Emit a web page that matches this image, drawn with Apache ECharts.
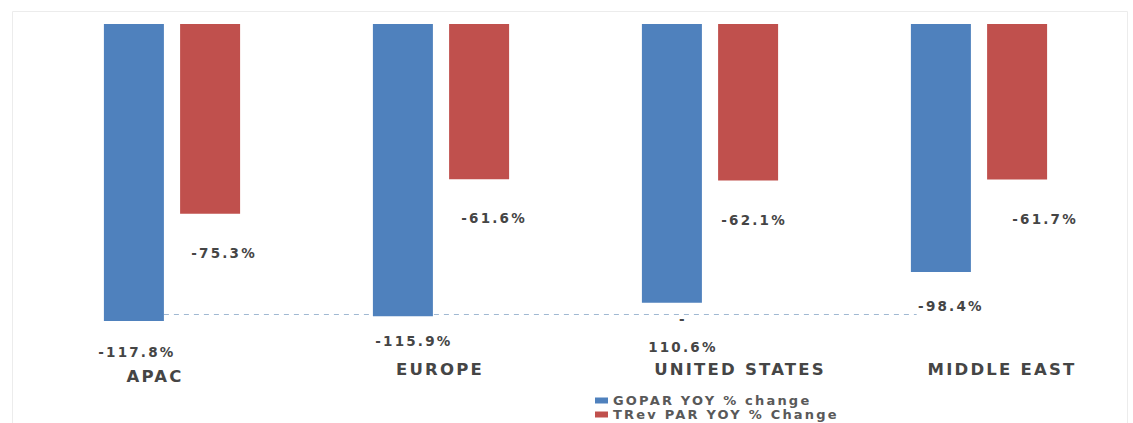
<!DOCTYPE html>
<html>
<head>
<meta charset="utf-8">
<script src="https://cdn.jsdelivr.net/npm/echarts@6/dist/echarts.min.js"></script>
<style>
  html, body { margin: 0; padding: 0; background: #fff; }
  #chart { width: 1133px; height: 423px; }
  /* wide lettering for every label */
  #chart svg text { letter-spacing: 2.2px; }
</style>
</head>
<body>
<div id="chart"></div>
<script>
// Regions and year-over-year changes (%)
const regions = ['APAC', 'EUROPE', 'UNITED STATES', 'MIDDLE EAST'];
const goparChange = [-117.8, -115.9, -110.6, -98.4];
const trevparChange = [-75.3, -61.6, -62.1, -61.7];
const seriesNames = ['GOPAR YOY % change', 'TRev PAR YOY % Change'];
const yTicks = { min: -120, max: 0 };

// nudges of each region label ([dx, dy], px) and of each value label
const regionShift = [[-17, 7], [-1, 0], [30, 0], [23, -1]];
const goparLabelShift = [3, 11, 11, 10];
const goparLabelGap = [17, 11, 2, 20];
const trevLabelShift = [7, 8, -1, 21];

const textColor = '#454545';
const font = "'DejaVu Sans', 'Liberation Sans', sans-serif";

const rich = {};
regionShift.forEach(([dx, dy], i) => {
  rich['r' + i] = {
    align: 'center', fontSize: 16.5, fontWeight: 'bold', color: textColor, fontFamily: font,
    padding: [Math.max(dy, 0), dx < 0 ? -2 * dx : 0, Math.max(-dy, 0), dx > 0 ? 2 * dx : 0]
  };
});

function pct(v) { return v.toFixed(1) + '%'; }

// GOPAR value labels: the US one breaks after its minus sign,
// the Middle East one sits on a white box over the guide line
const goparData = goparChange.map((v, i) => {
  const label = { offset: [goparLabelShift[i], 0], distance: goparLabelGap[i] };
  if (i === 2) label.formatter = '-\n' + pct(Math.abs(v));
  if (i === 3) Object.assign(label, { backgroundColor: '#fff', padding: [0, 8] });
  return { value: v, label: label };
});
const trevData = trevparChange.map((v, i) => ({ value: v, label: { offset: [trevLabelShift[i], 0] } }));

const chart = echarts.init(document.getElementById('chart'), null, { renderer: 'svg' });
chart.setOption({
  animation: false,
  backgroundColor: '#fff',
  graphic: [{
    type: 'rect', left: 10, top: 9,
    shape: { width: 1115, height: 412 },
    style: { fill: 'none', stroke: '#ececec', lineWidth: 1 },
    silent: true
  }],
  grid: { left: 37.5, right: 19.5, top: 24, bottom: 96.5 },
  legend: {
    orient: 'vertical', left: 590, top: 389, height: 60, itemGap: 1,
    itemWidth: 13, itemHeight: 6, icon: 'rect',
    textStyle: { fontSize: 13, color: '#595959', fontFamily: font, fontWeight: 'bold' },
    data: seriesNames
  },
  xAxis: {
    type: 'category', data: regions,
    axisLine: { show: false }, axisTick: { show: false },
    axisLabel: {
      margin: 34, interval: 0,
      formatter: (v, i) => '{r' + i + '|' + v + '}',
      rich: rich
    }
  },
  yAxis: {
    type: 'value', min: yTicks.min, max: yTicks.max,
    show: false, splitLine: { show: false }
  },
  series: [
    {
      name: seriesNames[0], type: 'bar', data: goparData,
      barWidth: 60, barGap: '27%',
      itemStyle: { color: '#4f81bd' },
      label: {
        show: true, position: 'bottom',
        color: textColor, fontSize: 13.5, fontWeight: 'bold', fontFamily: font, lineHeight: 28,
        formatter: p => pct(p.value)
      },
      markLine: {
        silent: true, symbol: 'none', z: 1,
        lineStyle: { type: [5, 5], color: '#a0b8d2', width: 1.2 },
        label: { show: false },
        data: [[{ coord: ['APAC', goparChange[1] + 0.6] }, { coord: ['MIDDLE EAST', goparChange[1] + 0.6] }]]
      }
    },
    {
      name: seriesNames[1], type: 'bar', data: trevData,
      barWidth: 60,
      itemStyle: { color: '#c0504d' },
      label: {
        show: true, position: 'bottom', distance: 24,
        color: textColor, fontSize: 13.5, fontWeight: 'bold', fontFamily: font,
        backgroundColor: '#fff', padding: [8, 6, 8, 20],
        formatter: p => pct(p.value)
      }
    }
  ]
});
</script>
</body>
</html>
